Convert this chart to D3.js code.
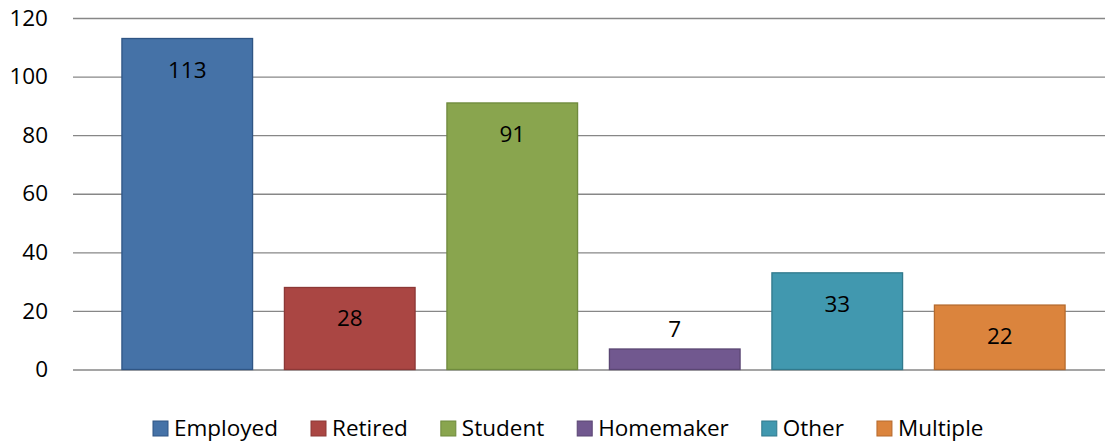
<!DOCTYPE html>
<html>
<head>
<meta charset="utf-8">
<script src="https://cdn.jsdelivr.net/npm/d3@7"></script>
<style>
  body { margin: 0; background: #fff; }
  svg text { font-family: "Open Sans", sans-serif; fill: #000; }
</style>
</head>
<body>
<div id="main"></div>
<script>
// chart data //
const categories = ['Employed', 'Retired', 'Student', 'Homemaker', 'Other', 'Multiple'];
const values = [113, 28, 91, 7, 33, 22];
const fills = ['#4572A7', '#AA4643', '#89A54E', '#71588F', '#4198AF', '#DB843D'];
const strokes = ['#2F5584', '#8C3836', '#6F8A3D', '#5A4673', '#31798C', '#B56A2E'];
const yTicks = [0, 20, 40, 60, 80, 100, 120];

const w = 1105;
const h = 442;
const fontSize = 22.5;

const svg = d3.select('#main')
    .append('svg')
    .attr('width', w)
    .attr('height', h);

// scales //
const xScale = d3.scaleBand()
    .domain(categories)
    .range([106, 1081])
    .paddingInner(0.196)
    .paddingOuter(0.098);

const yScale = d3.scaleLinear()
    .domain([0, 120])
    .range([369.5, 18]);

// gridlines + y labels
const yAxis = d3.axisLeft(yScale)
    .tickValues(yTicks)
    .tickSize(-(w - 73))
    .tickPadding(25);

const gy = svg.append('g')
    .attr('transform', 'translate(73,0)')
    .call(yAxis);

gy.select('.domain').remove();
gy.selectAll('.tick line')
    .attr('stroke', '#878787')
    .attr('stroke-width', 1.3);
gy.selectAll('.tick text')
    .attr('font-size', fontSize)
    .attr('font-family', '"Open Sans", sans-serif')
    .attr('fill', '#000');

// bars //
svg.selectAll('rect.bar')
    .data(values)
    .enter()
    .append('rect')
    .attr('class', 'bar')
    .attr('x', (d, i) => xScale(categories[i]))
    .attr('y', d => yScale(d))
    .attr('width', xScale.bandwidth())
    .attr('height', d => yScale(0) - yScale(d))
    .attr('fill', (d, i) => fills[i])
    .attr('stroke', (d, i) => strokes[i])
    .attr('stroke-width', 1.3);

// value labels - inside top, or above if the bar is too short
svg.selectAll('text.val')
    .data(values)
    .enter()
    .append('text')
    .attr('class', 'val')
    .attr('x', (d, i) => xScale(categories[i]) + xScale.bandwidth() / 2)
    .attr('y', d => {
        const top = yScale(d);
        return (yScale(0) - top) > 45 ? top + 39 : top - 12;
    })
    .attr('text-anchor', 'middle')
    .attr('font-size', fontSize)
    .text(d => d);

// legend //
const legend = svg.append('g');
const items = legend.selectAll('g')
    .data(categories)
    .enter()
    .append('g');

items.append('rect')
    .attr('width', 15)
    .attr('height', 15)
    .attr('y', 421)
    .attr('fill', (d, i) => fills[i])
    .attr('stroke', (d, i) => strokes[i])
    .attr('stroke-width', 1);

items.append('text')
    .attr('x', 21)
    .attr('y', 436)
    .attr('font-size', fontSize)
    .text(d => d);

const gap = 33;
let xPos = 0;
items.each(function () {
    const g = d3.select(this);
    g.attr('transform', 'translate(' + xPos + ',0)');
    xPos += 21 + g.select('text').node().getComputedTextLength() + gap;
});
const total = xPos - gap;
legend.attr('transform', 'translate(' + Math.round(568 - total / 2) + ',0)');
</script>
</body>
</html>
